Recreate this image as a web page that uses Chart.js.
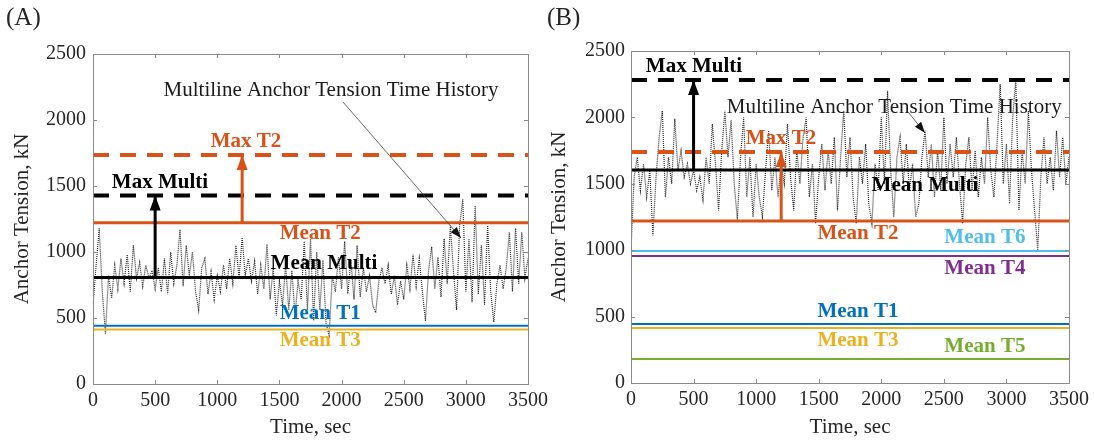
<!DOCTYPE html>
<html>
<head>
<meta charset="utf-8">
<script src="https://cdn.jsdelivr.net/npm/chart.js@4.4.0/dist/chart.umd.min.js"></script>
<style>
  html, body { margin: 0; padding: 0; background: #fff; }
  #wrap { position: relative; width: 1094px; height: 444px; overflow: hidden; }
  canvas { position: absolute; top: 0; }
  #chartA { left: 0; }
  #chartB { left: 540px; }
</style>
</head>
<body>
<div id="wrap">
  <canvas id="chartA" width="560" height="444"></canvas>
  <canvas id="chartB" width="554" height="444"></canvas>
</div>
<script>
// sample spacing of the read-off time histories (sec)
const STEP = 25;

const xTicks = [0, 500, 1000, 1500, 2000, 2500, 3000, 3500];
const yTicks = [0, 500, 1000, 1500, 2000, 2500];

// (A) multiline anchor tension, kN, one value every STEP sec
const tensionA = [
    600, 900, 1180, 700, 380, 820, 650, 900, 720, 950,       // 0-225
    760, 980, 700, 1050, 800, 920, 740, 900, 800, 860,       // 250-475
    720, 880, 700, 950, 680, 1000, 760, 900, 1170, 740,      // 500-725
    1050, 820, 1000, 700, 560, 880, 950, 680, 850, 640,      // 750-975
    820, 700, 900, 720, 950, 760, 1050, 800, 1110, 820,      // 1000-1225
    950, 780, 930, 680, 900, 720, 1060, 640, 880, 520,       // 1250-1475
    780, 600, 900, 560, 860, 520, 780, 640, 1080, 560,       // 1500-1725
    1100, 480, 1000, 560, 940, 460, 370, 820, 700, 960,      // 1750-1975
    720, 1080, 680, 940, 640, 1050, 660, 880, 700, 820,      // 2000-2225
    600, 540, 780, 880, 760, 900, 680, 820, 600, 780,        // 2250-2475
    640, 900, 720, 980, 740, 950, 700, 480, 860, 1040,       // 2500-2725
    720, 960, 660, 1100, 760, 1200, 860, 560, 1200, 1400,    // 2750-2975
    700, 1100, 620, 1350, 680, 1050, 600, 1200, 700, 470,    // 3000-3225
    760, 900, 720, 880, 1150, 700, 1180, 760, 1150, 800,     // 3250-3475
    950
];

// (B) multiline anchor tension, kN
const tensionB = [
    1000, 1550, 1700, 1450, 1650, 1400, 1600, 1110, 1550, 1850,
    2050, 1400, 1700, 1500, 1990, 1600, 1750, 1550, 1650, 1500,
    1600, 1450, 1550, 1380, 1700, 1500, 1950, 1650, 1300, 1750,
    2050, 1700, 1980, 1500, 1230, 1700, 2000, 1400, 1700, 1250,
    1650, 1400, 1250, 1600, 1900, 1450, 1700, 1400, 1650, 1500,
    1950, 1550, 1300, 1750, 1500, 1850, 2000, 1400, 1650, 1200,
    1550, 1800, 1450, 1750, 1500, 1850, 1300, 1700, 2050, 1550,
    1850, 1400, 1200, 1700, 1500, 1800, 1350, 1200, 1650, 1450,
    2000, 1500, 2200, 1600, 1250, 1700, 1850, 1500, 1800, 1450,
    1650, 1250, 1350, 1700, 1900, 1550, 1800, 1400, 1750, 1450,
    2000, 1500, 1800, 1550, 1850, 1500, 1200, 1650, 1850, 1450,
    1750, 1400, 1700, 1500, 2000, 1600, 1400, 1800, 2250, 1500,
    1800, 1350, 2000, 2280, 1300, 1750, 1500, 2050, 1600, 1300,
    1000, 1550, 1850, 1500, 1700, 1450, 1900, 1550, 1850, 1500,
    1700
];

// horizontal reference levels, kN
const levelNamesA = ['Max T2', 'Max Multi', 'Mean T2', 'Mean Multi', 'Mean T1', 'Mean T3'];
const levelValuesA = [1735, 1428, 1222, 806, 442, 412];
const levelNamesB = ['Max Multi', 'Max T2', 'Mean Multi', 'Mean T2', 'Mean T6', 'Mean T4', 'Mean T1', 'Mean T3', 'Mean T5'];
const levelValuesB = [2282, 1739, 1604, 1220, 994, 956, 444, 414, 180];

const SERIF = '"Liberation Serif", "Times New Roman", serif';
const INK = '#262626';

// line styles per level name
const levelStyle = {
    'Max Multi':  { color: '#000000', width: 4, dash: [16, 11] },
    'Max T2':     { color: '#D95319', width: 4, dash: [16, 11] },
    'Mean Multi': { color: '#000000', width: 3 },
    'Mean T2':    { color: '#D95319', width: 3 },
    'Mean T1':    { color: '#0072BD', width: 2 },
    'Mean T3':    { color: '#EDB120', width: 2 },
    'Mean T4':    { color: '#7E2F8E', width: 2 },
    'Mean T5':    { color: '#77AC30', width: 2 },
    'Mean T6':    { color: '#4DBEEE', width: 2 }
};

function levelValue(names, values, name) {
    return values[names.indexOf(name)];
}

function arrowHead(ctx, x1, y1, x2, y2, len, half, color) {
    const a = Math.atan2(y2 - y1, x2 - x1);
    const bx = x2 - len * Math.cos(a), by = y2 - len * Math.sin(a);
    ctx.save();
    ctx.fillStyle = color;
    ctx.beginPath();
    ctx.moveTo(x2, y2);
    ctx.lineTo(bx + half * Math.sin(a), by - half * Math.cos(a));
    ctx.lineTo(bx - half * Math.sin(a), by + half * Math.cos(a));
    ctx.closePath();
    ctx.fill();
    ctx.restore();
}

// box, inward ticks, text labels and arrow heads
const decor = {
    id: 'decor',
    afterDatasetsDraw(chart, args, opts) {
        const { ctx, chartArea: { left, right, top, bottom }, scales: { x, y } } = chart;
        ctx.save();
        ctx.strokeStyle = '#8a8a8a';
        ctx.lineWidth = 1;
        ctx.strokeRect(Math.round(left) + 0.5, Math.round(top) + 0.5, Math.round(right - left), Math.round(bottom - top));
        ctx.beginPath();
        xTicks.forEach(v => {
            const px = Math.round(x.getPixelForValue(v)) + 0.5;
            ctx.moveTo(px, bottom); ctx.lineTo(px, bottom - 4);
            ctx.moveTo(px, top); ctx.lineTo(px, top + 4);
        });
        yTicks.forEach(v => {
            const py = Math.round(y.getPixelForValue(v)) + 0.5;
            ctx.moveTo(left, py); ctx.lineTo(left + 4, py);
            ctx.moveTo(right, py); ctx.lineTo(right - 4, py);
        });
        ctx.stroke();

        // thick arrow heads
        opts.arrows.forEach(a => {
            const px = x.getPixelForValue(a.x);
            arrowHead(ctx, px, y.getPixelForValue(a.from), px, y.getPixelForValue(a.to), 15, 5.5, a.color);
        });

        // thin pointer to the time history
        const p = opts.pointer;
        const x1 = x.getPixelForValue(p.x1), y1 = y.getPixelForValue(p.y1);
        const x2 = x.getPixelForValue(p.x2), y2 = y.getPixelForValue(p.y2);
        ctx.strokeStyle = '#444';
        ctx.lineWidth = 0.8;
        ctx.beginPath(); ctx.moveTo(x1, y1); ctx.lineTo(x2, y2); ctx.stroke();
        arrowHead(ctx, x1, y1, x2, y2, 11, 4, '#111');

        ctx.textAlign = 'center';
        ctx.textBaseline = 'middle';
        opts.labels.forEach(l => {
            ctx.font = (l.bold === false ? '' : 'bold ') + '21px ' + SERIF;
            ctx.fillStyle = l.color;
            ctx.fillText(l.text, x.getPixelForValue(l.x), y.getPixelForValue(l.y));
        });

        ctx.font = '25px ' + SERIF;
        ctx.fillStyle = INK;
        ctx.textAlign = 'left';
        ctx.fillText(opts.panel.text, opts.panel.x, opts.panel.y);
        ctx.restore();
    }
};

function makeChart(canvasId, tension, names, values, cfg) {
    const datasets = [];
    names.forEach((n, i) => {
        const s = levelStyle[n];
        datasets.push({
            data: [{ x: 0, y: values[i] }, { x: 3500, y: values[i] }],
            borderColor: s.color,
            borderWidth: s.width,
            borderDash: s.dash || [],
            borderCapStyle: 'butt',
            pointRadius: 0,
            order: 2
        });
    });
    cfg.arrows.forEach(a => {
        datasets.push({
            data: [{ x: a.x, y: a.from }, { x: a.x, y: a.to }],
            borderColor: a.color,
            borderWidth: 3,
            pointRadius: 0,
            order: 1
        });
    });
    datasets.push({
        data: tension.map((v, i) => ({ x: i * STEP, y: v })),
        borderColor: 'rgba(20,20,20,0.9)',
        borderWidth: 1.2,
        borderDash: [1, 1],
        pointRadius: 0,
        tension: 0,
        order: 10
    });

    const tickFont = { family: SERIF, size: 20 };
    const plain = v => String(v);

    return new Chart(document.getElementById(canvasId), {
        type: 'line',
        data: { datasets },
        options: {
            responsive: false,
            animation: false,
            layout: { padding: cfg.padding },
            plugins: {
                legend: { display: false },
                tooltip: { enabled: false },
                decor: cfg
            },
            scales: {
                x: {
                    type: 'linear',
                    min: 0, max: 3500,
                    grid: { display: false, drawTicks: false },
                    border: { display: false },
                    ticks: { stepSize: 500, padding: 5, maxRotation: 0, autoSkip: false, color: INK, font: tickFont, callback: plain },
                    title: { display: true, text: 'Time, sec', color: INK, font: { family: SERIF, size: 21 }, padding: { top: 0, bottom: 4 } },
                    afterFit: s => { s.height = cfg.xHeight; }
                },
                y: {
                    min: 0, max: 2500,
                    grid: { display: false, drawTicks: false },
                    border: { display: false },
                    ticks: { stepSize: 500, padding: cfg.yPad, color: INK, font: tickFont, callback: plain },
                    title: { display: true, text: 'Anchor Tension, kN', color: INK, font: { family: SERIF, size: 21 }, padding: { top: cfg.titlePad, bottom: 0 } },
                    afterFit: s => { s.width = cfg.yWidth; }
                }
            }
        },
        plugins: [decor]
    });
}

const ORANGE = '#D95319';

makeChart('chartA', tensionA, levelNamesA, levelValuesA, {
    padding: { top: 54, right: 32, bottom: 0, left: 0 },
    xHeight: 60, yWidth: 93, yPad: 7, titlePad: 10,
    arrows: [
        { x: 500, from: levelValue(levelNamesA, levelValuesA, 'Mean Multi'), to: levelValue(levelNamesA, levelValuesA, 'Max Multi'), color: '#000' },
        { x: 1200, from: levelValue(levelNamesA, levelValuesA, 'Mean T2'), to: levelValue(levelNamesA, levelValuesA, 'Max T2'), color: ORANGE }
    ],
    pointer: { x1: 2012, y1: 2136, x2: 2961, y2: 1106 },
    labels: [
        { text: 'Multiline Anchor Tension Time History', x: 1915, y: 2220, color: '#1a1a1a', bold: false },
        { text: 'Max T2', x: 1231, y: 1833, color: ORANGE },
        { text: 'Max Multi', x: 539, y: 1523, color: '#000' },
        { text: 'Mean T2', x: 1828, y: 1136, color: ORANGE },
        { text: 'Mean Multi', x: 1858, y: 909, color: '#000' },
        { text: 'Mean T1', x: 1828, y: 530, color: '#0072BD' },
        { text: 'Mean T3', x: 1828, y: 326, color: '#EDB120' }
    ],
    panel: { text: '(A)', x: 6, y: 18 }
});

makeChart('chartB', tensionB, levelNamesB, levelValuesB, {
    padding: { top: 51, right: 25, bottom: 0, left: 0 },
    xHeight: 61, yWidth: 91, yPad: 6, titlePad: 7,
    arrows: [
        { x: 500, from: levelValue(levelNamesB, levelValuesB, 'Mean Multi'), to: levelValue(levelNamesB, levelValuesB, 'Max Multi'), color: '#000' },
        { x: 1200, from: levelValue(levelNamesB, levelValuesB, 'Mean T2'), to: levelValue(levelNamesB, levelValuesB, 'Max T2'), color: ORANGE }
    ],
    pointer: { x1: 2221, y1: 2033, x2: 2349, y2: 1883 },
    labels: [
        { text: 'Multiline Anchor Tension Time History', x: 2103, y: 2078, color: '#1a1a1a', bold: false },
        { text: 'Max Multi', x: 503, y: 2380, color: '#000' },
        { text: 'Max T2', x: 1199, y: 1837, color: ORANGE },
        { text: 'Mean Multi', x: 2349, y: 1483, color: '#000' },
        { text: 'Mean T2', x: 1814, y: 1122, color: ORANGE },
        { text: 'Mean T6', x: 2828, y: 1092, color: '#4DBEEE' },
        { text: 'Mean T4', x: 2828, y: 858, color: '#7E2F8E' },
        { text: 'Mean T1', x: 1814, y: 535, color: '#0072BD' },
        { text: 'Mean T3', x: 1814, y: 316, color: '#EDB120' },
        { text: 'Mean T5', x: 2828, y: 271, color: '#77AC30' }
    ],
    panel: { text: '(B)', x: 7, y: 18 }
});
</script>
</body>
</html>
